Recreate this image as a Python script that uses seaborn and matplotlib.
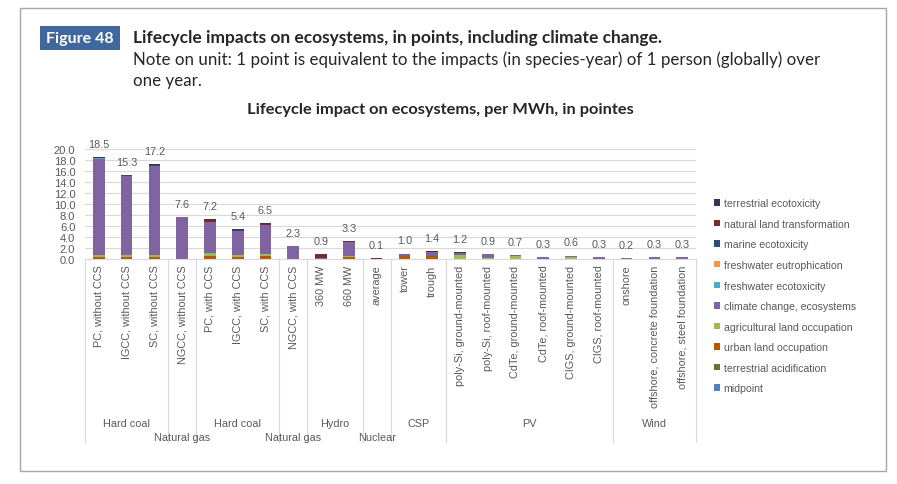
import numpy as np
import pandas as pd
import matplotlib
matplotlib.use("Agg")
import matplotlib.pyplot as plt
import matplotlib.transforms as mtransforms
from matplotlib.patches import Rectangle, Patch
import seaborn as sns

# categories (one bar each) and their technology groups
categories = [
    "PC, without CCS", "IGCC, without CCS", "SC, without CCS", "NGCC, without CCS",
    "PC, with CCS", "IGCC, with CCS", "SC, with CCS", "NGCC, with CCS",
    "360 MW", "660 MW", "average", "tower", "trough",
    "poly-Si, ground-mounted", "poly-Si, roof-mounted", "CdTe, ground-mounted",
    "CdTe, roof-mounted", "CIGS, ground-mounted", "CIGS, roof-mounted",
    "onshore", "offshore, concrete foundation", "offshore, steel foundation",
]
group_names = ["Hard coal", "Natural gas", "Hard coal", "Natural gas", "Hydro",
               "Nuclear", "CSP", "PV", "Wind"]
group_sizes = [3, 1, 3, 1, 2, 1, 2, 6, 3]

# impact categories, values in points per MWh
midpoint = [0] * 22
terr_acidification = [0.05, 0.05, 0.05, 0, 0.08, 0.05, 0.06, 0, 0, 0.02, 0, 0.02, 0.02,
                      0.02, 0.01, 0.01, 0, 0.01, 0, 0, 0, 0]
urban_land = [0.3, 0.3, 0.3, 0.03, 0.5, 0.35, 0.45, 0.03, 0.05, 0.3, 0.02, 0.5, 0.5,
              0.05, 0.05, 0.03, 0.02, 0.03, 0.02, 0.03, 0.03, 0.03]
agri_land = [0.4, 0.35, 0.4, 0.03, 0.5, 0.4, 0.45, 0.03, 0.02, 0.15, 0.02, 0.05, 0.1,
             0.6, 0.05, 0.45, 0.02, 0.4, 0.02, 0.02, 0.02, 0.02]
climate = [17.52, 14.44, 16.22, 7.52, 5.65, 4.35, 5.14, 2.22, 0.07, 2.57, 0.05, 0.33, 0.65,
           0.45, 0.72, 0.16, 0.24, 0.11, 0.24, 0.13, 0.23, 0.23]
fw_ecotox = [0.02, 0.02, 0.02, 0, 0.03, 0.02, 0.03, 0, 0, 0.01, 0, 0.01, 0.01,
             0.01, 0.01, 0.01, 0, 0.01, 0, 0, 0, 0]
fw_eutro = [0.01, 0.01, 0.01, 0, 0.01, 0.01, 0.01, 0, 0, 0.01, 0, 0.01, 0.01,
            0.01, 0.01, 0.01, 0, 0.01, 0, 0, 0, 0]
marine_ecotox = [0.02, 0.02, 0.02, 0, 0.03, 0.02, 0.03, 0, 0, 0.01, 0, 0.01, 0.01,
                 0.01, 0.01, 0.01, 0, 0.01, 0, 0, 0, 0]
natural_land = [0.1, 0.06, 0.1, 0.01, 0.3, 0.15, 0.25, 0.01, 0.75, 0.15, 0.01, 0.04, 0.05,
                0.02, 0.02, 0.01, 0.01, 0.01, 0.01, 0.01, 0.01, 0.01]
terr_ecotox = [0.08, 0.05, 0.08, 0.01, 0.1, 0.05, 0.08, 0.01, 0.01, 0.08, 0, 0.03, 0.05,
               0.03, 0.02, 0.01, 0.01, 0.01, 0.01, 0.01, 0.01, 0.01]

# stacking order, bottom to top
series = [
    ("midpoint", midpoint, "#4f81bd"),
    ("terrestrial acidification", terr_acidification, "#5f7530"),
    ("urban land occupation", urban_land, "#b65708"),
    ("agricultural land occupation", agri_land, "#9bbb59"),
    ("climate change, ecosystems", climate, "#8064a2"),
    ("freshwater ecotoxicity", fw_ecotox, "#4bacc6"),
    ("freshwater eutrophication", fw_eutro, "#f79646"),
    ("marine ecotoxicity", marine_ecotox, "#2c4d75"),
    ("natural land transformation", natural_land, "#772c2a"),
    ("terrestrial ecotoxicity", terr_ecotox, "#403152"),
]

sns.set_style("white")
plt.rcParams["font.family"] = ["Liberation Sans", "DejaVu Sans"]
grey = "#595959"
line_c = "#d9d9d9"

fig = plt.figure(figsize=(8.97, 4.85), dpi=100)
ax = fig.add_axes([85 / 897, 1 - 260 / 485, (696 - 85) / 897, 110 / 485])

bottom = np.zeros(len(categories))
for name, vals, col in series:
    df = pd.DataFrame({"tech": categories, "value": vals})
    sns.barplot(data=df, x="tech", y="value", order=categories, color=col,
                saturation=1, width=0.42, errorbar=None, bottom=bottom.copy(),
                linewidth=0, ax=ax)
    bottom += np.array(vals)

for i, tot in enumerate(bottom):
    ax.annotate(f"{tot:.1f}", (i, tot), xytext=(0, 6), textcoords="offset points",
                ha="center", va="bottom", fontsize=7.8, color=grey,
                annotation_clip=False)

ax.set_xlim(-0.5, len(categories) - 0.5)
ax.set_ylim(0, 20)
ax.set_yticks(np.arange(0, 20.1, 2))
ax.set_yticklabels([f"{v:.1f}" for v in np.arange(0, 20.1, 2)])
ax.set_xticks(range(len(categories)))
ax.set_xticklabels(categories, rotation=90)
ax.set_xlabel("")
ax.set_ylabel("")
ax.tick_params(axis="y", length=0, pad=7, labelsize=8, labelcolor=grey)
ax.tick_params(axis="x", length=0, pad=4, labelsize=7.8, labelcolor=grey)
ax.yaxis.grid(True, color=line_c, linewidth=0.8)
ax.set_axisbelow(True)
for s in ["left", "top", "right"]:
    ax.spines[s].set_visible(False)
ax.spines["bottom"].set_color(line_c)

# group separators and group labels under the category labels
trans = mtransforms.blended_transform_factory(ax.transData, ax.transAxes)
edges = np.concatenate([[0], np.cumsum(group_sizes)]) - 0.5
for e in edges:
    ax.plot([e, e], [0, -1.665], transform=trans, color=line_c, lw=0.8, clip_on=False)
for k, gname in enumerate(group_names):
    mid = (edges[k] + edges[k + 1]) / 2
    ypos = -1.62 if group_sizes[k] == 1 else -1.49
    ax.text(mid, ypos, gname, transform=trans, ha="center", va="center",
            fontsize=7.8, color=grey)

# legend (top entry = top of stack)
handles = [Patch(facecolor=c, edgecolor="none", label=n) for n, _, c in series[::-1]]
fig.legend(handles=handles, loc="upper left", bbox_to_anchor=(709 / 897, 1 - 194 / 485),
           frameon=False, fontsize=7.6, labelcolor=grey, handlelength=0.55,
           handleheight=0.55, handletextpad=0.35, labelspacing=1.0, borderpad=0)

# header block
fig.patches.append(Rectangle((20 / 897, 1 - 472 / 485), 866 / 897, 463 / 485,
                             transform=fig.transFigure, fill=False,
                             edgecolor="#a6a6a6", linewidth=1))
fig.patches.append(Rectangle((40 / 897, 1 - 51 / 485), 80 / 897, 24 / 485,
                             transform=fig.transFigure, facecolor="#41689c",
                             edgecolor="none"))
hfont = ["Lato", "DejaVu Sans"]
fig.text(80 / 897, 1 - 39 / 485, "Figure 48", color="white", fontsize=11.5,
         fontweight="bold", ha="center", va="center", family=hfont)
fig.text(133 / 897, 1 - 38 / 485,
         "Lifecycle impacts on ecosystems, in points, including climate change.",
         fontsize=12.5, fontweight="bold", ha="left", va="center", family=hfont)
fig.text(133 / 897, 1 - 60 / 485,
         "Note on unit: 1 point is equivalent to the impacts (in species-year) of 1 person (globally) over",
         fontsize=12.2, ha="left", va="center", family=hfont)
fig.text(133 / 897, 1 - 81 / 485, "one year.", fontsize=12.2, ha="left", va="center",
         family=hfont)
fig.text(440 / 897, 1 - 110 / 485, "Lifecycle impact on ecosystems, per MWh, in pointes",
         fontsize=11.8, fontweight="bold", ha="center", va="center", family=hfont)

fig.savefig("out.png", dpi=100)
